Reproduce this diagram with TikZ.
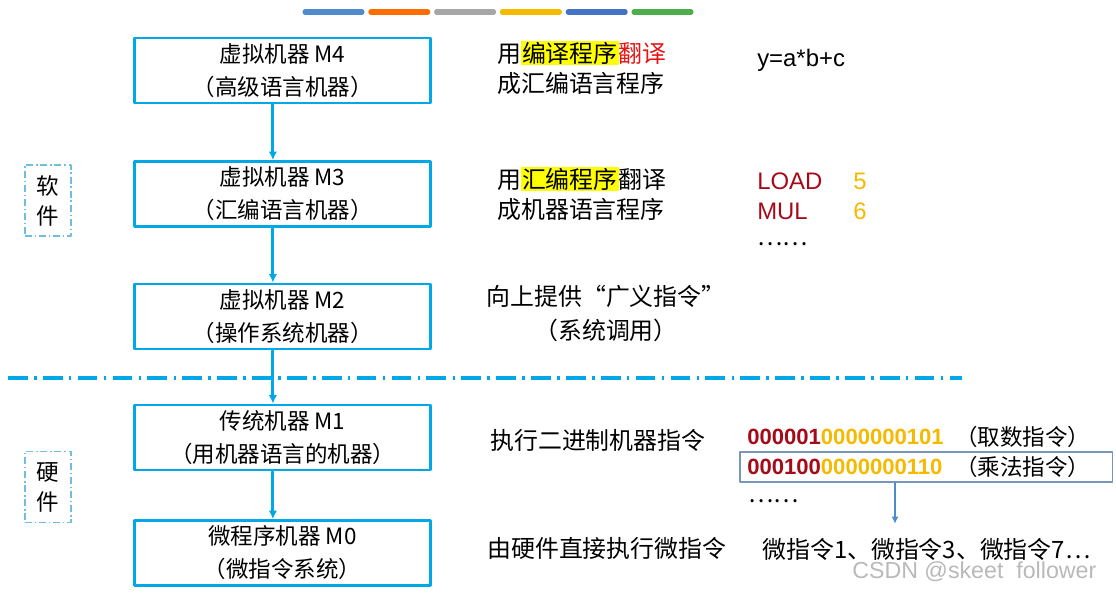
\documentclass[tikz,border=0pt]{standalone}
\usepackage{fontspec}
\setmainfont{Liberation Sans}
\newfontfamily\cjk{Noto Sans CJK SC}
\usepackage{xcolor}
\usetikzlibrary{arrows.meta,positioning}
\definecolor{levelblue}{RGB}{0,168,232}
\definecolor{sideblue}{RGB}{110,190,220}
\definecolor{tipblue}{RGB}{80,140,205}
\definecolor{selgray}{RGB}{120,150,185}
\definecolor{opred}{RGB}{165,10,25}
\definecolor{argorange}{RGB}{245,185,0}
\definecolor{hotred}{RGB}{230,20,20}
\definecolor{hlyellow}{RGB}{255,255,0}
\definecolor{stripblue}{RGB}{68,114,196}
\newcommand\hlt[1]{{\setlength\fboxsep{0.6pt}\colorbox{hlyellow}{#1}}}

\begin{document}
\begin{tikzpicture}[
  x=0.025cm,y=-0.025cm,
  line cap=round,
  line join=round,
  >=Latex,
  levelbox/.style={draw=levelblue,line width=2.1pt,minimum width=7.4cm,
    minimum height=1.625cm,align=center,inner sep=0pt,
    font=\cjk\fontsize{16}{23.5}\selectfont},
  sidebox/.style={draw=sideblue,line width=0.9pt,line cap=butt,
    dash pattern=on 5pt off 2pt on 1pt off 2pt,
    minimum width=1.15cm,minimum height=1.775cm,align=center,inner sep=0pt,
    font=\cjk\fontsize{16}{21.3}\selectfont},
  note/.style={anchor=west,inner sep=0pt,align=left,font=\cjk\fontsize{17}{21.3}\selectfont},
  code/.style={anchor=west,inner sep=0pt,font=\fontsize{17}{20}\selectfont},
  bits/.style={anchor=west,inner sep=0pt,font=\bfseries\fontsize{15.7}{19}\selectfont},
  flow/.style={levelblue,line width=2pt,-{Latex[length=6pt,width=6pt]}},
  pick/.style={tipblue,line width=0.8pt,-{Latex[length=5pt,width=5pt]}}
]
\useasboundingbox (0,0) rectangle (1116,594);

% colour strip on top
\foreach \c [count=\i] in {tipblue,orange!85!red,gray!70,argorange,stripblue,green!55!black!70}
  \draw[\c,line width=3.6pt] ({305+65.8*(\i-1)},12) -- ++(57,0);

% levels
\node[levelbox] (m4) at (282.5,70.5) {虚拟机器\ M4\\（高级语言机器）};
\node[levelbox] (m3) at (282.5,194) {虚拟机器\ M3\\（汇编语言机器）};
\node[levelbox] (m2) at (282.5,316.5) {虚拟机器\ M2\\（操作系统机器）};
\node[levelbox] (m1) at (282.5,437.5) {传统机器\ M1\\（用机器语言的机器）};
\node[levelbox] (m0) at (282.5,553) {微程序机器\ M0\\（微指令系统）};

\draw[levelblue,line width=2.8pt,line cap=butt,
  dash pattern=on 14pt off 4.5pt on 1.8pt off 4.5pt]
  (8,378) -- (962,378);

\foreach \a/\b in {m4/m3,m3/m2,m2/m1,m1/m0}
  \draw[flow] ([xshift=-0.24cm]\a.south) -- ([xshift=-0.24cm]\b.north);

\node[sidebox] (soft) at (48,200.5) {软\\件};
\node[sidebox] (hard) at (48,487) {硬\\件};

% what each level does
\node[note] (n4) at (497,68) {用\hlt{编译程序}\textcolor{hotred}{翻译}\\成汇编语言程序};
\node[note] (n3) at (497,194) {用\hlt{汇编程序}翻译\\成机器语言程序};
\node[note,anchor=center,align=center,font=\cjk\fontsize{17}{23.5}\selectfont]
  (n2) at (606,313.5) {向上提供“广义指令”\\（系统调用）};
\node[note] (n1) at (490,440) {执行二进制机器指令};
\node[note] (n0) at (487,548) {由硬件直接执行微指令};

% example code
\node[code] (src) at (757,60) {y=a*b+c};
\node[code,text=opred] (ld) at (757,181) {LOAD};
\node[code,text=argorange] (ld5) at (853,181) {5};
\node[code,text=opred] (mul) at (757,211) {MUL};
\node[code,text=argorange] (mul6) at (853,211) {6};
\node[note] (more3) at (757,244) {……};

\node[draw=selgray,line width=0.8pt,minimum width=9.3cm,minimum height=0.75cm]
  (sel) at (926,467) {};
\node[bits] (b1) at (747,437) {\textcolor{opred}{000001}\textcolor{argorange}{0000000101}};
\node[note,font=\cjk\fontsize{16}{20}\selectfont] (t1) at (955,437) {（取数指令）};
\node[bits] (b2) at (747,467) {\textcolor{opred}{000100}\textcolor{argorange}{0000000110}};
\node[note,font=\cjk\fontsize{16}{20}\selectfont] (t2) at (955,467) {（乘法指令）};
\node[note] (more1) at (748,501) {……};

\node[note] (micro) at (762,549) {微指令1、微指令3、微指令7…};
\coordinate (tap) at (895,0);
\draw[pick] (sel.south -| tap) -- ([yshift=0.35cm]tap |- micro.north);

\node[anchor=west,inner sep=0pt,text=gray!55,font=\fontsize{16.5}{20}\selectfont]
  (mark) at (852,572) {CSDN @skeet\ \ follower};
\end{tikzpicture}
\end{document}
